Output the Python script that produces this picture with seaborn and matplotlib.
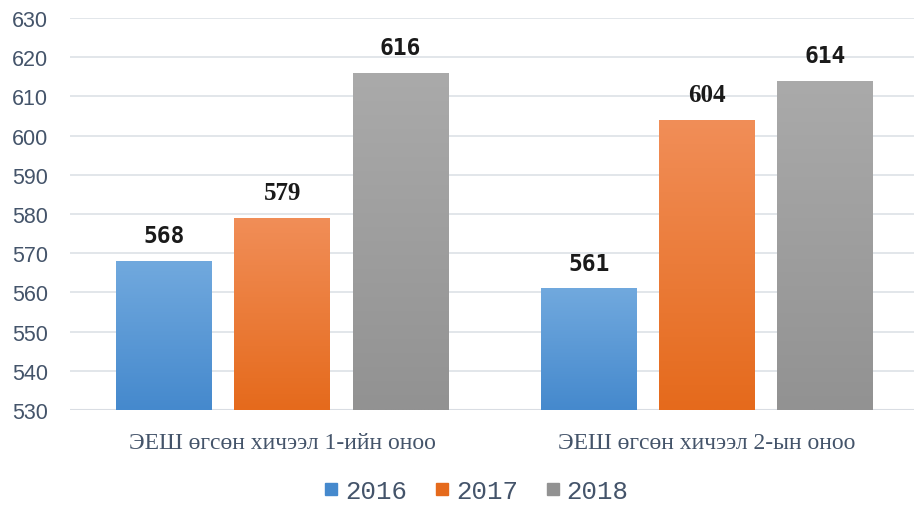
# Imports
import numpy as np
import pandas as pd
import matplotlib.pyplot as plt
import seaborn as sns
from matplotlib.lines import Line2D

# Data
categories = ["ЭЕШ өгсөн хичээл 1-ийн оноо", "ЭЕШ өгсөн хичээл 2-ын оноо"]
years = ["2016", "2017", "2018"]
scores_2016 = [568, 561]
scores_2017 = [579, 604]
scores_2018 = [616, 614]
y_ticks = [530, 540, 550, 560, 570, 580, 590, 600, 610, 620, 630]

df = pd.DataFrame({"Category": categories * 3,
                   "Year": np.repeat(years, len(categories)),
                   "Score": scores_2016 + scores_2017 + scores_2018})

# Colours (gradient top -> bottom)
colors_top = ["#71a9de", "#f18e58", "#aaaaaa"]
colors_bottom = ["#4589cd", "#e56a1c", "#929292"]
palette = dict(zip(years, colors_bottom))
text_color = "#44546a"

sns.set_theme(style="white")
fig = plt.figure(figsize=(9.14, 5.06), dpi=100)
ax = fig.add_axes([70 / 914, 1 - 411 / 506, 849 / 914, 392 / 506])

sns.barplot(data=df, x="Category", y="Score", hue="Year", hue_order=years,
            palette=palette, width=0.835, gap=0.19, legend=False, ax=ax)

ax.set_ylim(530, 630)
ax.set_yticks(y_ticks)
xlim = ax.get_xlim()

# Gradient fill for every bar
for i, container in enumerate(ax.containers):
    grad = np.linspace(0, 1, 256).reshape(-1, 1)
    c0 = np.array(plt.matplotlib.colors.to_rgb(colors_top[i]))
    c1 = np.array(plt.matplotlib.colors.to_rgb(colors_bottom[i]))
    img = c0[None, None, :] * (1 - grad[:, :, None]) + c1[None, None, :] * grad[:, :, None]
    for bar in container:
        x0 = bar.get_x()
        x1 = x0 + bar.get_width()
        h = bar.get_height()
        bar.set_facecolor("none")
        bar.set_edgecolor("none")
        im = ax.imshow(img, extent=[x0, x1, 530, h], aspect="auto",
                       origin="upper", zorder=2)
        im.set_clip_path(bar)

ax.set_xlim(xlim)
ax.set_ylim(530, 630)

# Value labels
label_fonts = {579: "Liberation Serif", 604: "Liberation Serif"}
for i, container in enumerate(ax.containers):
    for bar in container:
        h = bar.get_height()
        fam = label_fonts.get(int(round(h)), "DejaVu Sans Mono")
        size = 18 if fam == "Liberation Serif" else 16.5
        ax.text(bar.get_x() + bar.get_width() / 2, h + 6.4, f"{int(round(h))}",
                ha="center", va="center", fontsize=size, fontweight="bold",
                family=fam, color="#1a1a1a", zorder=4)

# Grid and axes styling
ax.grid(axis="y", color="#dde1e6", linewidth=1.2, zorder=0)
ax.set_axisbelow(True)
sns.despine(ax=ax, left=True, bottom=True, top=True, right=True)
ax.axhline(530, color="#d9dde3", linewidth=1.5, zorder=1)
ax.set_xlabel("")
ax.set_ylabel("")
ax.tick_params(axis="both", length=0)
ax.tick_params(axis="y", pad=16)
ax.tick_params(axis="x", pad=16)
for lab in ax.get_yticklabels():
    lab.set_family("Liberation Sans")
    lab.set_fontsize(15.5)
    lab.set_color(text_color)
for lab in ax.get_xticklabels():
    lab.set_family("Liberation Serif")
    lab.set_fontsize(17)
    lab.set_color(text_color)

# Legend
handles = [Line2D([0], [0], marker="s", linestyle="none", markersize=9,
                  markerfacecolor=c, markeredgecolor=c) for c in colors_bottom]
fig.legend(handles, years, loc="center", bbox_to_anchor=(474 / 914, 1 - 492 / 506),
           ncol=3, frameon=False, handletextpad=0.1, columnspacing=0.9,
           handlelength=0.9, prop={"family": "Liberation Mono", "size": 18.5},
           labelcolor=text_color)

fig.savefig("out.png", dpi=100)
